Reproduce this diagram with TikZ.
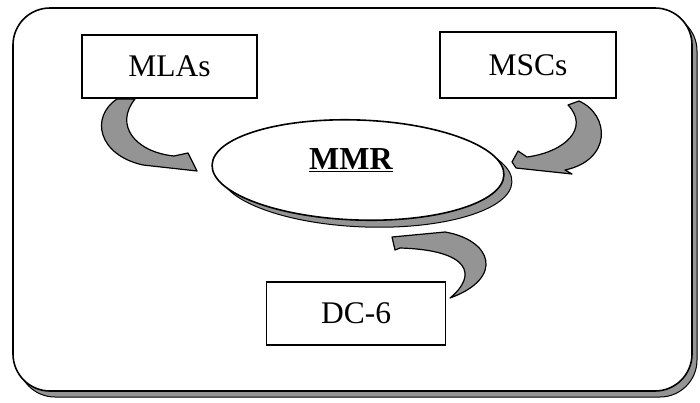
\documentclass[tikz,border=0pt]{standalone}
\usepackage{fontspec}
\setmainfont{Liberation Serif}
\usetikzlibrary{shapes.geometric}
\begin{document}
\begin{tikzpicture}[x=1pt,y=-1pt,
  shade fill/.style={fill=black!42},
  outline/.style={draw=black, line width=1.6pt},
  label box/.style={outline, fill=white, rectangle, inner sep=0pt,
    font=\fontsize{31.5}{36}\selectfont},
  flow arrow/.style={shade fill, draw=black, line width=1.2pt, line join=round},
]
\useasboundingbox (0,0) rectangle (700,402);

% outer frame with its drop shadow
\draw[shade fill, draw=black, line width=1pt, rounded corners=37pt] (18,14) rectangle (697,397);
\draw[outline, fill=white, rounded corners=37pt] (13,8) rectangle (692,391);

% label boxes
\node[label box, minimum width=175pt, minimum height=63pt] (mlas) at (169.5,66.5) {MLAs};
\node[label box, minimum width=176pt, minimum height=66pt] (mscs) at (528,65) {MSCs};
\node[label box, minimum width=179pt, minimum height=63pt] (dc6) at (356,313.5) {DC-6};

% curved arrow MLAs -> MMR
\draw[flow arrow] (117,99) .. controls (90,117) and (98,155) .. (143,165)
  -- (197,171) -- (188,153) -- (174,156)
  .. controls (135,152) and (114,125) .. (135,99) -- cycle;

% curved arrow MSCs -> MMR
\draw[flow arrow] (579,101) .. controls (610,115) and (612,160) .. (565,170)
  -- (572,174) -- (516,168) -- (512,162) -- (518,151) -- (527,157)
  .. controls (565,152) and (590,128) .. (568,105) -- cycle;

% curved arrow MMR -> DC-6
\draw[flow arrow] (392,237) -- (445,232) .. controls (492,240) and (505,278) .. (450,298)
  .. controls (478,275) and (470,250) .. (400,248) -- (395,250) -- cycle;

% central ellipse with its shadow
\node[ellipse, shade fill, draw=black, line width=1pt, rotate=-2,
  minimum width=292pt, minimum height=100pt] (mmrshadow) at (366,177) {};
\node[ellipse, outline, fill=white, rotate=-2,
  minimum width=292pt, minimum height=100pt] (mmrshape) at (358,170) {};
\node[font=\fontsize{32}{36}\selectfont\bfseries] (mmr) at (351,160) {\underline{MMR}};
\end{tikzpicture}
\end{document}
